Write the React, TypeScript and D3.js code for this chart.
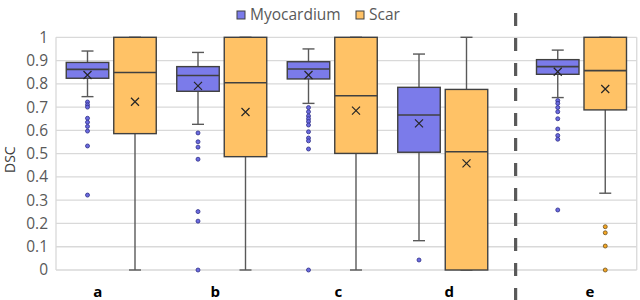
import * as d3 from "d3";

// groups
const categories = ["a", "b", "c", "d"];
const sideCategory = ["e"];
const allCategories = [...categories, ...sideCategory];
const series = ["Myocardium", "Scar"];
const yTicks = [0, 0.1, 0.2, 0.3, 0.4, 0.5, 0.6, 0.7, 0.8, 0.9, 1];

// Myocardium box stats (a..e)
const myoLow = [0.745, 0.626, 0.716, 0.126, 0.741];
const myoQ1 = [0.824, 0.768, 0.821, 0.506, 0.841];
const myoMedian = [0.862, 0.836, 0.864, 0.666, 0.874];
const myoQ3 = [0.892, 0.874, 0.895, 0.785, 0.904];
const myoHigh = [0.941, 0.935, 0.95, 0.928, 0.945];
const myoMean = [0.838, 0.791, 0.838, 0.63, 0.852];
const myoOutliers = [
  [0.722, 0.71, 0.7, 0.652, 0.635, 0.617, 0.597, 0.533, 0.322],
  [0.589, 0.551, 0.528, 0.476, 0.251, 0.21, 0],
  [0.698, 0.68, 0.662, 0.65, 0.638, 0.623, 0.594, 0.567, 0.555, 0.52, 0],
  [0.043],
  [0.728, 0.716, 0.698, 0.68, 0.65, 0.606, 0.578, 0.562, 0.258],
];

// Scar box stats (a..e)
const scarLow = [0, 0, 0, 0, 0.33];
const scarQ1 = [0.586, 0.487, 0.501, 0, 0.688];
const scarMedian = [0.849, 0.805, 0.749, 0.508, 0.857];
const scarQ3 = [1, 1, 1, 0.776, 1];
const scarHigh = [1, 1, 1, 1, 1];
const scarMean = [0.723, 0.679, 0.685, 0.458, 0.778];
const scarOutliers = [[], [], [], [], [0.186, 0.16, 0.103, 0]];

// category labels sit a bit off the group centre in the original
const labelNudge = [-13.5, -6.5, 6, 6.5, 8.5];

const width = 640;
const height = 300;
const plotLeft = 56;
const mainRight = 498;
const sideLeft = 526.25;
const plotRight = 636.75;
const plotTop = 37.3;
const plotBottom = 270;
const boxW = 42.5;
const capW = 12;

const colors = {
  Myocardium: { fill: "#7b7bea", dot: "#6a6ae0", dotStroke: "#2e2e86" },
  Scar: { fill: "#ffc266", dot: "#f5a623", dotStroke: "#6b5020" },
};

function App() {
  const y = d3.scaleLinear([0, 1], [plotBottom, plotTop]);
  const xMain = d3.scaleBand(categories, [plotLeft, mainRight]);
  const xSide = d3.scaleBand(sideCategory, [sideLeft, plotRight]);
  const offset = d3.scalePoint(series, [-23.75, 23.75]);

  const groupCenter = (c: string) =>
    categories.includes(c)
      ? xMain(c)! + xMain.bandwidth() / 2
      : xSide(c)! + xSide.bandwidth() / 2;

  const boxes = allCategories.flatMap((c, i) => [
    {
      cat: c, s: "Myocardium", low: myoLow[i], q1: myoQ1[i], med: myoMedian[i],
      q3: myoQ3[i], high: myoHigh[i], mean: myoMean[i], out: myoOutliers[i],
    },
    {
      cat: c, s: "Scar", low: scarLow[i], q1: scarQ1[i], med: scarMedian[i],
      q3: scarQ3[i], high: scarHigh[i], mean: scarMean[i], out: scarOutliers[i],
    },
  ]);

  const font = "'Open Sans', 'Noto Sans', sans-serif";
  const dividerX = (mainRight + sideLeft) / 2 + 3.5;

  return (
    <svg
      width={width}
      height={height}
      style={{ position: "absolute", left: 0, top: 0, background: "#fff" }}
      fontFamily={font}
    >
      {/* grid */}
      {yTicks.map((t) => (
        <line key={t} x1={plotLeft} x2={plotRight} y1={y(t)} y2={y(t)} stroke="#d9d9d9" strokeWidth={1.3} />
      ))}
      <line x1={plotLeft} x2={plotLeft} y1={plotTop} y2={plotBottom} stroke="#d9d9d9" strokeWidth={1.3} />
      <line x1={plotRight} x2={plotRight} y1={plotTop} y2={plotBottom} stroke="#d9d9d9" strokeWidth={1.3} />

      {/* y tick labels */}
      {yTicks.map((t) => (
        <text key={t} x={48} y={y(t)} dy="0.35em" textAnchor="end" fontSize={15.5} fill="#595959">
          {d3.format("~g")(t)}
        </text>
      ))}
      <text
        transform={`translate(15,${(plotTop + plotBottom) / 2 + 6}) rotate(-90)`}
        textAnchor="middle"
        fontSize={14}
        fill="#404040"
      >
        DSC
      </text>

      {/* boxes */}
      {boxes.map((b) => {
        const cx = groupCenter(b.cat) + offset(b.s)!;
        const col = colors[b.s as keyof typeof colors];
        const m = 4;
        return (
          <g key={b.cat + b.s}>
            <line x1={cx} x2={cx} y1={y(b.high)} y2={y(b.low)} stroke="#595959" strokeWidth={1.4} />
            <line x1={cx - capW / 2} x2={cx + capW / 2} y1={y(b.high)} y2={y(b.high)} stroke="#595959" strokeWidth={1.4} />
            <line x1={cx - capW / 2} x2={cx + capW / 2} y1={y(b.low)} y2={y(b.low)} stroke="#595959" strokeWidth={1.4} />
            <rect
              x={cx - boxW / 2}
              y={y(b.q3)}
              width={boxW}
              height={y(b.q1) - y(b.q3)}
              fill={col.fill}
              stroke="#404040"
              strokeWidth={1.4}
            />
            <line x1={cx - boxW / 2} x2={cx + boxW / 2} y1={y(b.med)} y2={y(b.med)} stroke="#404040" strokeWidth={1.6} />
            <path
              d={`M${cx - m},${y(b.mean) - m}L${cx + m},${y(b.mean) + m}M${cx + m},${y(b.mean) - m}L${cx - m},${y(b.mean) + m}`}
              stroke="#262626"
              strokeWidth={1.2}
            />
            {b.out.map((v, k) => (
              <circle key={k} cx={cx} cy={y(v)} r={2} fill={col.dot} stroke={col.dotStroke} strokeWidth={0.8} />
            ))}
          </g>
        );
      })}

      {/* divider */}
      <line
        x1={dividerX}
        x2={dividerX}
        y1={13}
        y2={height}
        stroke="#595959"
        strokeWidth={3.2}
        strokeDasharray="13 12"
      />

      {/* category labels */}
      {allCategories.map((c, i) => (
        <text
          key={c}
          x={groupCenter(c) + labelNudge[i]}
          y={297}
          textAnchor="middle"
          fontSize={15}
          fontWeight="bold"
          fill="#000"
        >
          {c}
        </text>
      ))}

      {/* legend */}
      <g fontSize={15.5} fill="#595959">
        <rect x={237} y={11} width={8} height={8} fill={colors.Myocardium.fill} stroke="#404040" strokeWidth={1} />
        <text x={250} y={20}>Myocardium</text>
        <rect x={356} y={11} width={8} height={8} fill={colors.Scar.fill} stroke="#404040" strokeWidth={1} />
        <text x={369} y={20}>Scar</text>
      </g>
    </svg>
  );
}

export default App;
